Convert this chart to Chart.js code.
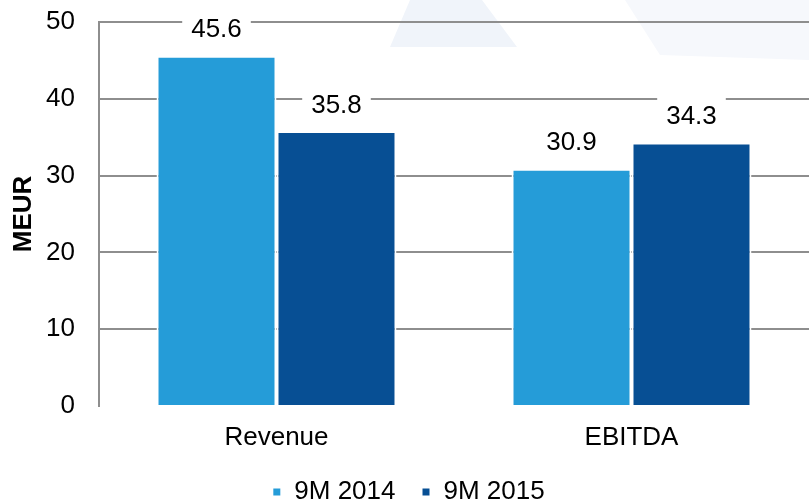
<!DOCTYPE html>
<html>
<head>
<meta charset="utf-8">
<script src="https://cdn.jsdelivr.net/npm/chart.js@4.4.1/dist/chart.umd.min.js"></script>
<style>
  html, body { margin: 0; padding: 0; background: #ffffff; }
  #wrap { width: 809px; height: 501px; position: relative; }
</style>
</head>
<body>
<div id="wrap"><canvas id="c" width="809" height="501"></canvas></div>
<script>
const categories = ["Revenue", "EBITDA"];
const series2014 = [45.6, 30.9];
const series2015 = [35.8, 34.3];
const seriesNames = ["9M 2014", "9M 2015"];
const yTicks = [0, 10, 20, 30, 40, 50];
const yTitle = "MEUR";

const FONT = "'Liberation Sans', Arial, sans-serif";

// faint decorative background shapes (watermark) in the top-right corner
const watermark = {
  id: 'watermark',
  beforeDraw(chart) {
    const ctx = chart.ctx;
    ctx.save();
    ctx.fillStyle = '#f0f4fa';
    ctx.beginPath();
    ctx.moveTo(390, 47); ctx.lineTo(410, 0); ctx.lineTo(482, 0); ctx.lineTo(517, 47);
    ctx.closePath(); ctx.fill();
    ctx.fillStyle = '#f6f8fc';
    ctx.beginPath();
    ctx.moveTo(625, 0); ctx.lineTo(660, 55); ctx.lineTo(809, 60); ctx.lineTo(809, 0);
    ctx.closePath(); ctx.fill();
    ctx.restore();
  }
};

const valueLabels = {
  id: 'valueLabels',
  afterDatasetsDraw(chart) {
    const ctx = chart.ctx;
    ctx.save();
    ctx.font = "26px " + FONT;
    ctx.textAlign = 'center';
    ctx.textBaseline = 'middle';
    chart.data.datasets.forEach((ds, di) => {
      const meta = chart.getDatasetMeta(di);
      meta.data.forEach((bar, i) => {
        const txt = ds.data[i].toFixed(1);
        const w = ctx.measureText(txt).width + 18;
        const h = 40;
        const cy = bar.y - 25.5;
        ctx.fillStyle = '#ffffff';
        ctx.fillRect(bar.x - w / 2, cy - h / 2, w, h);
        ctx.fillStyle = '#000000';
        ctx.fillText(txt, bar.x, cy);
      });
    });
    ctx.restore();
  }
};

new Chart(document.getElementById('c'), {
  type: 'bar',
  data: {
    labels: categories,
    datasets: [
      { label: seriesNames[0], data: series2014, backgroundColor: '#259CD8', borderColor: '#ffffff', borderWidth: 2 },
      { label: seriesNames[1], data: series2015, backgroundColor: '#074F94', borderColor: '#ffffff', borderWidth: 2 }
    ]
  },
  options: {
    responsive: false,
    animation: false,
    devicePixelRatio: 1,
    layout: { padding: { left: 8, right: 0, top: 22, bottom: -14 } },
    datasets: { bar: { categoryPercentage: 0.676, barPercentage: 1.0 } },
    plugins: {
      tooltip: { enabled: false },
      legend: {
        position: 'bottom',
        labels: {
          color: '#000000',
          font: { family: FONT, size: 26 },
          boxWidth: 9,
          boxHeight: 9,
          padding: 26
        }
      }
    },
    scales: {
      x: {
        grid: { display: false, drawTicks: false },
        border: { display: false },
        afterFit(scale) { scale.height = 47; },
        ticks: { color: '#000000', font: { family: FONT, size: 26 }, padding: 16 }
      },
      y: {
        min: 0,
        max: 50,
        afterBuildTicks(scale) { scale.ticks = yTicks.map(v => ({ value: v })); },
        afterFit(scale) { scale.width = 91; scale.paddingTop = 0; scale.paddingBottom = 0; },
        grid: {
          drawTicks: false,
          lineWidth: 2,
          color: (c) => (c.tick && c.tick.value === 0) ? 'rgba(0,0,0,0)' : '#8E8E8E'
        },
        border: { display: true, color: '#8E8E8E', width: 2 },
        ticks: { color: '#000000', font: { family: FONT, size: 26 }, padding: 24 },
        title: {
          display: true,
          text: yTitle,
          color: '#000000',
          font: { family: FONT, size: 26, weight: 'bold' },
          padding: { top: 0, bottom: 0 }
        }
      }
    }
  },
  plugins: [watermark, valueLabels]
});
</script>
</body>
</html>
